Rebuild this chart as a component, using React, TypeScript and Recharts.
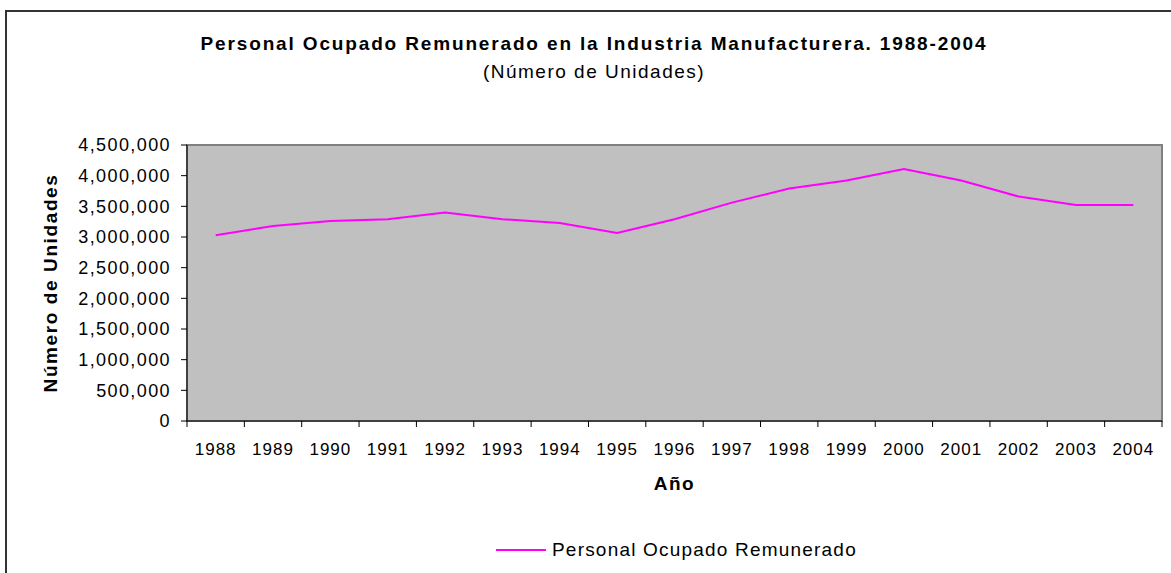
import React from 'react';
import { LineChart, Line, XAxis, YAxis, Legend, ReferenceArea } from 'recharts';

const years = ['1988', '1989', '1990', '1991', '1992', '1993', '1994', '1995', '1996', '1997', '1998', '1999', '2000', '2001', '2002', '2003', '2004'];
const personal = [3030000, 3180000, 3260000, 3290000, 3400000, 3290000, 3230000, 3065000, 3290000, 3560000, 3790000, 3920000, 4110000, 3920000, 3660000, 3520000, 3520000];
const yTicks = [0, 500000, 1000000, 1500000, 2000000, 2500000, 3000000, 3500000, 4000000, 4500000];

const FONT = '"Liberation Sans", Arial, sans-serif';
const MAGENTA = '#ff00ff';

// categories sit in the middle of each band, ticks on the band edges (Excel style)
const data = years.map((year, i) => ({ year, pos: i + 0.5, personal: personal[i] }));
const xTicks = Array.from({ length: years.length * 2 + 1 }, (_, i) => i / 2);

const YearTick = ({ x, y, payload }: any) => {
    const v = payload.value as number;
    if (Number.isInteger(v)) {
        return <line x1={x} x2={x} y1={y} y2={y + 6} stroke="#000" strokeWidth={1} />;
    }
    return (
        <text x={x} y={y + 34} textAnchor="middle" fontSize={17} letterSpacing={1} fontFamily={FONT} fill="#000">
            {years[Math.floor(v)]}
        </text>
    );
};

const LegendContent = ({ payload }: any) => (
    <div style={{ display: 'flex', alignItems: 'center', fontFamily: FONT }}>
        {(payload || []).map((p: any) => (
            <React.Fragment key={p.value}>
                <svg width={50} height={4}>
                    <line x1={0} x2={50} y1={2} y2={2} stroke={p.color} strokeWidth={2} />
                </svg>
                <span style={{ marginLeft: 6, fontSize: 19, letterSpacing: 1.2, color: '#000' }}>{p.value}</span>
            </React.Fragment>
        ))}
    </div>
);

export default function App() {
    return (
        <div style={{ position: 'absolute', left: 0, top: 0, width: 1171, height: 573, overflow: 'hidden', background: '#fff' }}>
            <div style={{ position: 'absolute', left: 0, width: 1188, top: 33, textAlign: 'center', fontFamily: FONT, fontWeight: 'bold', fontSize: 19, letterSpacing: 1.85 }}>
                Personal Ocupado Remunerado en la Industria Manufacturera. 1988-2004
            </div>
            <div style={{ position: 'absolute', left: 0, width: 1188, top: 61, textAlign: 'center', fontFamily: FONT, fontSize: 19, letterSpacing: 1.5 }}>
                (Número de Unidades)
            </div>
            <div style={{ position: 'absolute', left: 0, top: 0 }}>
                <LineChart width={1171} height={573} data={data} margin={{ top: 145, right: 9, left: 0, bottom: 0 }}>
                    <ReferenceArea x1={0} x2={17} y1={0} y2={4500000} fill="#c0c0c0" fillOpacity={1} stroke="#808080" strokeWidth={2} ifOverflow="visible" />
                    <XAxis
                        dataKey="pos"
                        type="number"
                        domain={[0, 17]}
                        ticks={xTicks}
                        interval={0}
                        tickLine={false}
                        tickSize={0}
                        tickMargin={0}
                        tick={<YearTick />}
                        axisLine={{ stroke: '#000' }}
                        height={152}
                        label={{ value: 'Año', position: 'insideTop', offset: 56, style: { fontFamily: FONT, fontWeight: 'bold', fontSize: 19, letterSpacing: 1.5, fill: '#000' } }}
                    />
                    <YAxis
                        width={187}
                        domain={[0, 4500000]}
                        ticks={yTicks}
                        interval={0}
                        tickFormatter={(v: number) => v.toLocaleString('en-US')}
                        tick={{ fill: '#000', fontSize: 18, letterSpacing: 1.4, fontFamily: FONT }}
                        tickSize={6}
                        tickMargin={10}
                        tickLine={{ stroke: '#000' }}
                        axisLine={{ stroke: '#000' }}
                        label={{ value: 'Número de Unidades', angle: -90, position: 'insideLeft', offset: 50, style: { textAnchor: 'middle', fontFamily: FONT, fontWeight: 'bold', fontSize: 19, letterSpacing: 1.6, fill: '#000' } }}
                    />
                    <Legend
                        verticalAlign="middle"
                        align="center"
                        content={<LegendContent />}
                        wrapperStyle={{ top: 539, left: 496, width: 'auto' }}
                    />
                    <Line
                        type="linear"
                        dataKey="personal"
                        name="Personal Ocupado Remunerado"
                        stroke={MAGENTA}
                        strokeWidth={2}
                        dot={false}
                        activeDot={false}
                        isAnimationActive={false}
                    />
                </LineChart>
            </div>
            <div style={{ position: 'absolute', left: 5, top: 10, width: 1300, height: 700, borderTop: '2px solid #333', borderLeft: '2px solid #333', pointerEvents: 'none' }} />
        </div>
    );
}
